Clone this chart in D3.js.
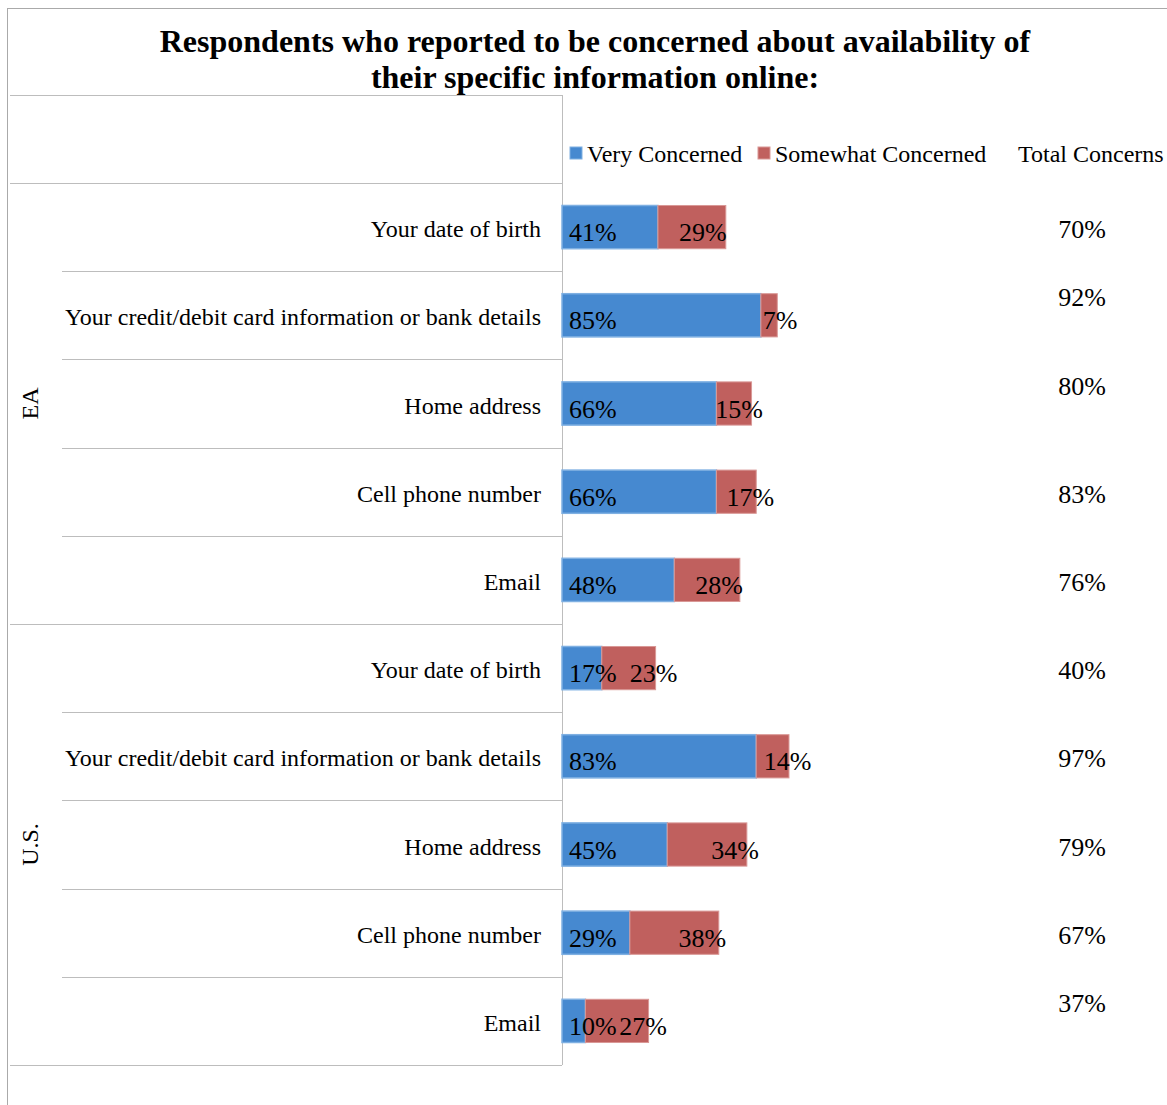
<!DOCTYPE html>
<html>
<head>
<meta charset="utf-8">
<script src="https://cdn.jsdelivr.net/npm/d3@7"></script>
<style>
  body { margin: 0; background: #fff; }
  text { font-family: "Liberation Serif", "Times New Roman", serif; fill: #000; }
</style>
</head>
<body>
<svg id="chart" width="1167" height="1105"></svg>
<script>

// data
var groups = ["EA", "U.S."]
var items = ["Your date of birth",
             "Your credit/debit card information or bank details",
             "Home address",
             "Cell phone number",
             "Email"]
var veryConcerned     = [41, 85, 66, 66, 48, 17, 83, 45, 29, 10]
var somewhatConcerned = [29,  7, 15, 17, 28, 23, 14, 34, 38, 27]
var totalConcerns     = [70, 92, 80, 83, 76, 40, 97, 79, 67, 37]
var seriesNames = ["Very Concerned", "Somewhat Concerned"]
var totalTitle = "Total Concerns"
var titleLines = ["Respondents who reported to be concerned about availability of",
                  "their specific information online:"]

// label quirks of the original: rows whose total sits higher,
// and how far each red label is pushed right of its segment's centre
var raisedTotals = [1, 2, 9]
var someLabelShift = [11, 11, 5, 14, 12, 25, 15, 28, 28, 26]

var blue = "#4689d0", blueEdge = "#7fb0e2"
var red = "#c0605e", redEdge = "#d99896"
var lineCol = "#bdbdbd"

var svg = d3.select("#chart")

var rows = []
groups.forEach(function(g){
  items.forEach(function(it){ rows.push(g + "|" + it) })
})

var x = d3.scaleLinear().domain([0, 100]).range([562, 796])
var y = d3.scaleBand().domain(rows).range([183, 1065]).padding(0)
var barH = y.bandwidth() * 0.49

// outer frame (right / bottom edges fall outside the picture)
svg.append("line").attr("x1", 7).attr("x2", 1167).attr("y1", 8.5).attr("y2", 8.5)
   .attr("stroke", "#aaa")
svg.append("line").attr("x1", 7.5).attr("x2", 7.5).attr("y1", 8).attr("y2", 1105)
   .attr("stroke", "#aaa")

// title
svg.append("g").selectAll("text")
   .data(titleLines)
   .enter().append("text")
   .attr("x", 595)
   .attr("y", (d,i) => 52 + i*36)
   .attr("text-anchor", "middle")
   .attr("font-size", 32)
   .attr("font-weight", "bold")
   .text(d => d)

// table lines
var grid = svg.append("g").attr("stroke", lineCol).attr("stroke-width", 1)
grid.append("line").attr("x1", 10).attr("x2", 562).attr("y1", 95.5).attr("y2", 95.5)
grid.append("line").attr("x1", 562.5).attr("x2", 562.5).attr("y1", 95).attr("y2", 1065)
rows.forEach(function(r, i){
  var first = i % items.length == 0
  grid.append("line")
      .attr("x1", first ? 10 : 62).attr("x2", 562)
      .attr("y1", Math.round(y(r)) + 0.5).attr("y2", Math.round(y(r)) + 0.5)
})
grid.append("line").attr("x1", 10).attr("x2", 562).attr("y1", 1065.5).attr("y2", 1065.5)

// group labels, rotated
svg.append("g").selectAll("text")
   .data(groups)
   .enter().append("text")
   .attr("text-anchor", "middle")
   .attr("font-size", 24)
   .attr("transform", function(d, gi){
      var top = y(rows[gi*items.length])
      var bottom = y(rows[(gi+1)*items.length - 1]) + y.bandwidth()
      return "translate(38," + ((top + bottom)/2) + ") rotate(-90)"
   })
   .text(d => d)

// category labels
svg.append("g").selectAll("text")
   .data(rows)
   .enter().append("text")
   .attr("x", 541)
   .attr("y", d => y(d) + y.bandwidth()/2 + 10)
   .attr("text-anchor", "end")
   .attr("font-size", 24)
   .text(d => d.split("|")[1])

// stacked bars
var bars = svg.append("g")
bars.selectAll(".very")
    .data(rows)
    .enter().append("rect")
    .attr("class", "very")
    .attr("x", x(0))
    .attr("y", d => y(d) + (y.bandwidth() - barH)/2)
    .attr("width", (d,i) => x(veryConcerned[i]) - x(0))
    .attr("height", barH)
    .attr("fill", blue)
    .attr("stroke", blueEdge)
    .attr("stroke-width", 1.5)

bars.selectAll(".some")
    .data(rows)
    .enter().append("rect")
    .attr("class", "some")
    .attr("x", (d,i) => x(veryConcerned[i]))
    .attr("y", d => y(d) + (y.bandwidth() - barH)/2)
    .attr("width", (d,i) => x(veryConcerned[i] + somewhatConcerned[i]) - x(veryConcerned[i]))
    .attr("height", barH)
    .attr("fill", red)
    .attr("stroke", redEdge)
    .attr("stroke-width", 1)

// bar value labels
var labels = svg.append("g").attr("font-size", 26)
labels.selectAll(".lv")
    .data(rows)
    .enter().append("text")
    .attr("x", x(0) + 7)
    .attr("y", d => y(d) + y.bandwidth()/2 + 14)
    .text((d,i) => veryConcerned[i] + "%")

labels.selectAll(".ls")
    .data(rows)
    .enter().append("text")
    .attr("x", (d,i) => (x(veryConcerned[i]) + x(veryConcerned[i] + somewhatConcerned[i]))/2 + someLabelShift[i])
    .attr("y", d => y(d) + y.bandwidth()/2 + 14)
    .attr("text-anchor", "middle")
    .text((d,i) => somewhatConcerned[i] + "%")

// total column
labels.selectAll(".lt")
    .data(rows)
    .enter().append("text")
    .attr("x", 1082)
    .attr("y", (d,i) => y(d) + y.bandwidth()/2 + 11 - (raisedTotals.indexOf(i) >= 0 ? 20 : 0))
    .attr("text-anchor", "middle")
    .text((d,i) => totalConcerns[i] + "%")

// legend
var legend = svg.append("g").attr("font-size", 24)
var legX = [570, 758]
seriesNames.forEach(function(name, i){
  legend.append("rect")
        .attr("x", legX[i]).attr("y", 147).attr("width", 12).attr("height", 12)
        .attr("fill", i == 0 ? blue : red)
        .attr("stroke", i == 0 ? blueEdge : redEdge)
  legend.append("text")
        .attr("x", legX[i] + 17).attr("y", 162)
        .text(name)
})
legend.append("text").attr("x", 1018).attr("y", 162).text(totalTitle)

</script>
</body>
</html>
